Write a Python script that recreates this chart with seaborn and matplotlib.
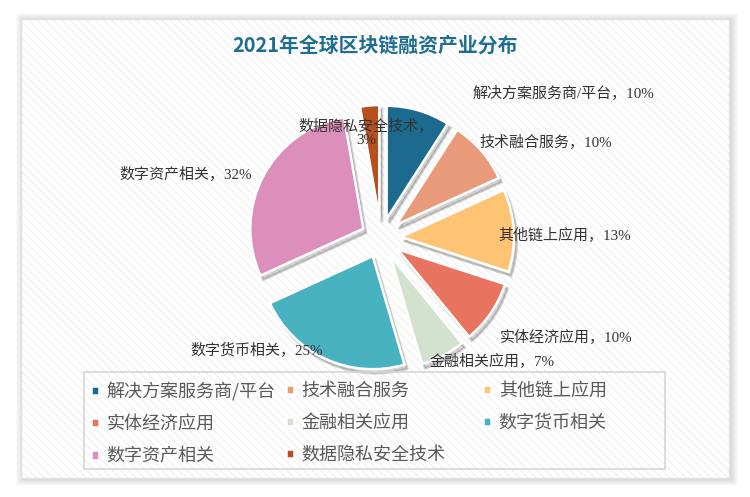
import matplotlib
matplotlib.use('Agg')
import matplotlib.pyplot as plt
import seaborn as sns
from matplotlib.patches import Rectangle

# data
categories = ['解决方案服务商/平台', '技术融合服务', '其他链上应用', '实体经济应用',
              '金融相关应用', '数字货币相关', '数字资产相关', '数据隐私安全技术']
shares = [10, 10, 13, 10, 7, 25, 32, 3]
title = '2021年全球区块链融资产业分布'

palette = sns.color_palette(['#1C6B8F', '#E89A7A', '#FFC374', '#E8735F',
                             '#D2E2CF', '#48B2C0', '#DB8FBA', '#B84F1F'])

sns.set_theme(style='white')
plt.rcParams['font.family'] = ['Noto Sans CJK SC', 'DejaVu Sans']
plt.rcParams['hatch.linewidth'] = 1.0

W, H = 750, 497
fig = plt.figure(figsize=(7.5, 4.97), dpi=100)
fig.patch.set_facecolor('white')
ax = fig.add_axes([0, 0, 1, 1])


def py(y):
    # pixel from top -> data y
    return H - y


# card with soft shadow
cx0, cy0, cx1, cy1 = 21, 19, 729, 478
for i in range(1, 8):
    ax.add_patch(Rectangle((cx0 - i + 2, py(cy1) - i - 1), cx1 - cx0 + 2 * i, cy1 - cy0 + 2 * i,
                           facecolor='#000000', edgecolor='none', alpha=0.018, zorder=0))
ax.add_patch(Rectangle((cx0, py(cy1)), cx1 - cx0, cy1 - cy0, facecolor='white',
                       edgecolor='#F2F2F2', hatch='\\\\\\\\', linewidth=0, zorder=0.3))
ax.add_patch(Rectangle((cx0, py(cy1)), cx1 - cx0, cy1 - cy0, fill=False,
                       edgecolor='#E2E2E2', linewidth=1, zorder=0.4))

# pie (explode is in data units = pixels here)
wedges, _ = ax.pie(shares, colors=palette, startangle=90, counterclock=False,
                   radius=113, center=(381, py(238)), explode=[20] * len(shares),
                   wedgeprops=dict(edgecolor='white', linewidth=1.8),
                   shadow=dict(ox=2, oy=-3, shade=0.9, alpha=0.18))

ax.set_xlim(0, W)
ax.set_ylim(0, H)
ax.axis('off')

# data labels
label_pos = [(472, 93, 'left'), (479, 142, 'left'), (498, 235, 'left'),
             (500, 337, 'left'), (430, 362, 'left'), (323, 350, 'right'),
             (252, 174, 'right'), (366, 133, 'center')]
for name, v, (x, y, ha) in zip(categories, shares, label_pos):
    txt = f'{name}，{v}%'
    if ha == 'center':
        txt = f'{name}，\n{v}%'
    ax.text(x, py(y), txt, ha=ha, va='center', fontsize=10.8, color='#333333',
            family=['Liberation Serif', 'Noto Sans CJK SC'], zorder=5,
            multialignment='center', linespacing=1.1)

# legend frame
ax.add_patch(Rectangle((84, py(469)), 581, 97, fill=False, edgecolor='#D6D6D6',
                       linewidth=1.2, zorder=2))

# legend, row-major with three columns
col_x = [91, 286, 483]
for c in range(3):
    idx = list(range(c, len(categories), 3))
    fig.legend([wedges[i] for i in idx], [categories[i] for i in idx],
               loc='upper left', bbox_to_anchor=(col_x[c] / W, 1 - 382 / H),
               frameon=False, fontsize=13, borderpad=0, borderaxespad=0,
               handlelength=0.42, handleheight=0.42, handletextpad=0.45,
               labelspacing=0.78, labelcolor='#595959')

fig.text(0.5, 1 - 45 / H, title, ha='center', va='center', fontsize=14.3,
         fontweight='bold', color='#1F6E91')

fig.savefig('out.png', dpi=100)
